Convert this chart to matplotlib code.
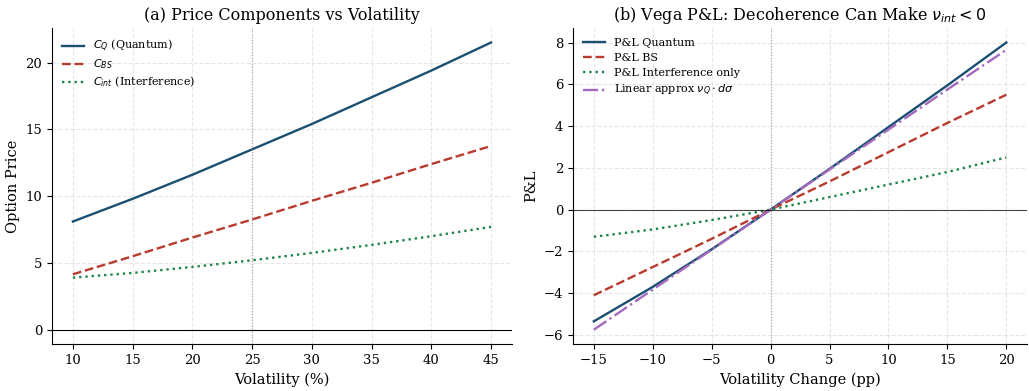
import numpy as np
import matplotlib
matplotlib.use("Agg")
import matplotlib.pyplot as plt

plt.rcParams['font.family'] = 'DejaVu Serif'
plt.rcParams['mathtext.fontset'] = 'dejavusans'

# Panel (a): prices vs volatility
vol = [10, 15, 20, 25, 30, 35, 40, 45]
c_quantum = [8.1, 9.8, 11.6, 13.5, 15.4, 17.4, 19.4, 21.5]
c_bs = [4.15, 5.5, 6.9, 8.25, 9.65, 11.0, 12.4, 13.75]
c_int = [3.9, 4.25, 4.7, 5.2, 5.75, 6.35, 7.0, 7.7]
vol_ref = 25

# Panel (b): P&L vs volatility change
dvol = [-15, -10, -5, 0, 5, 10, 15, 20]
pnl_quantum = [-5.35, -3.7, -1.9, 0.0, 1.95, 3.95, 5.95, 8.0]
pnl_bs = [-4.1, -2.75, -1.4, 0.0, 1.35, 2.75, 4.15, 5.5]
pnl_int = [-1.3, -0.95, -0.5, 0.0, 0.6, 1.2, 1.8, 2.5]
pnl_linear = [-5.75, -3.83, -1.92, 0.0, 1.92, 3.83, 5.75, 7.65]

BLUE = '#1b4f72'
RED = '#b83b2e'
GREEN = '#1e8449'
PURPLE = '#a569bd'

fig = plt.figure(figsize=(10.29, 3.91), dpi=100)
ax1 = fig.add_axes([0.0505, 0.120, 0.447, 0.808])
ax2 = fig.add_axes([0.557, 0.120, 0.441, 0.808])

ax1.plot(vol, c_quantum, color=BLUE, lw=1.7, label=r'$C_Q$ (Quantum)')
ax1.plot(vol, c_bs, color=RED, lw=1.7, ls='--', label=r'$C_{BS}$')
ax1.plot(vol, c_int, color=GREEN, lw=1.7, ls=':', label=r'$C_{int}$ (Interference)')
ax1.axhline(0, color='black', lw=0.8)
ax1.axvline(vol_ref, color='gray', lw=0.8, ls=':', alpha=0.7)
ax1.set_xlabel('Volatility (%)', fontsize=10.5)
ax1.set_ylabel('Option Price', fontsize=10.5)
ax1.set_title('(a) Price Components vs Volatility', fontsize=11.5)
ax1.legend(loc='upper left', frameon=False, fontsize=8, labelspacing=0.3)

ax2.plot(dvol, pnl_quantum, color=BLUE, lw=1.7, label='P&L Quantum')
ax2.plot(dvol, pnl_bs, color=RED, lw=1.7, ls='--', label='P&L BS')
ax2.plot(dvol, pnl_int, color=GREEN, lw=1.7, ls=':', label='P&L Interference only')
ax2.plot(dvol, pnl_linear, color=PURPLE, lw=1.7, ls='-.',
         label=r'Linear approx $\nu_Q \cdot d\sigma$')
ax2.axhline(0, color='black', lw=0.8, alpha=0.7)
ax2.axvline(0, color='gray', lw=0.8, ls=':', alpha=0.7)
ax2.set_xlabel('Volatility Change (pp)', fontsize=10.5)
ax2.set_ylabel('P&L', fontsize=10.5)
ax2.set_title(r'(b) Vega P&L: Decoherence Can Make $\nu_{int} < 0$', fontsize=11.5)
ax2.legend(loc='upper left', frameon=False, fontsize=8, labelspacing=0.45)

for ax in (ax1, ax2):
    ax.grid(True, ls='--', alpha=0.3)
    ax.spines['top'].set_visible(False)
    ax.spines['right'].set_visible(False)
    ax.tick_params(labelsize=9.5)

plt.savefig('out.png', dpi=100)
